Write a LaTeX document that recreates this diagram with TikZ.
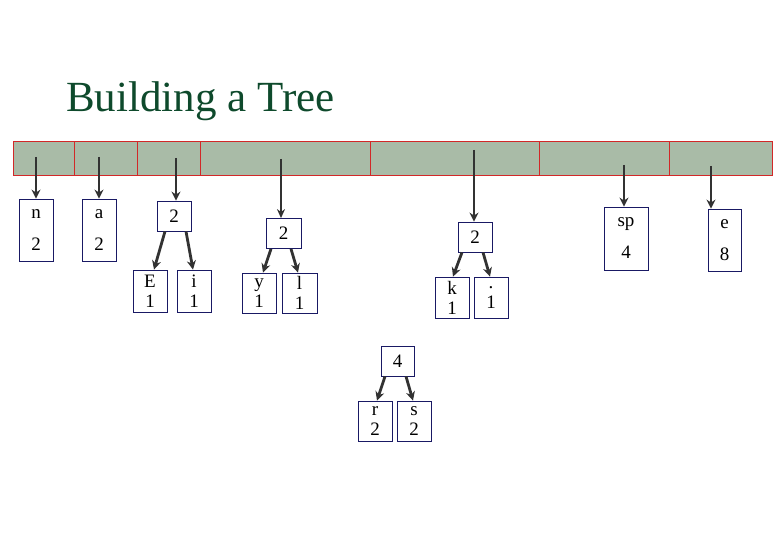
\documentclass[tikz,border=0pt]{standalone}
\usepackage{fontspec}
\setmainfont{Liberation Serif}
\usetikzlibrary{arrows.meta}
\definecolor{titlec}{RGB}{14,74,44}
\definecolor{barfill}{RGB}{169,187,167}
\definecolor{barline}{RGB}{210,40,40}
\definecolor{boxc}{RGB}{25,25,100}
\definecolor{arrc}{RGB}{50,50,50}
\tikzset{
  cell/.style={draw=barline, line width=1.1pt, minimum height=34pt, inner sep=0pt, anchor=north west},
  tbox/.style={draw=boxc, line width=0.8pt, inner sep=0pt, align=center, font=\fontsize{19}{20}\selectfont},
  ptr/.style={draw=arrc, line width=2.8pt, -{Stealth[length=9pt,width=9pt]}},
  thinptr/.style={draw=arrc, line width=1.1pt, -{Stealth[length=9pt,width=8pt]}}
}
\begin{document}
\begin{tikzpicture}[x=1pt,y=-1pt]
\useasboundingbox (0,0) rectangle (780,540);
\node[anchor=base west, inner sep=0pt, text=titlec, font=\fontsize{43}{48}\selectfont] (title) at (66,112) {Building a Tree};
% bar background and cells
\fill[barfill] (13,141) rectangle (772,175);
\node[cell, minimum width=61pt] (c1) at (13,141) {};
\node[cell, minimum width=63pt] (c2) at (74,141) {};
\node[cell, minimum width=63pt] (c3) at (137,141) {};
\node[cell, minimum width=170pt] (c4) at (200,141) {};
\node[cell, minimum width=169pt] (c5) at (370,141) {};
\node[cell, minimum width=130pt] (c6) at (539,141) {};
\node[cell, minimum width=103pt] (c7) at (669,141) {};
% pointer start points
\coordinate (s1) at (36,157);
\coordinate (s2) at (99,157);
\coordinate (s3) at (176,158);
\coordinate (s4) at (281,159);
\coordinate (s5) at (474,150);
\coordinate (s6) at (624,165);
\coordinate (s7) at (711,166);
% boxes
\node[tbox, minimum width=34pt, minimum height=62pt] (n) at (36,230) {n\\[12pt]2};
\node[tbox, minimum width=34pt, minimum height=62pt] (a) at (99,230) {a\\[12pt]2};
\node[tbox, minimum width=34pt, minimum height=30pt] (p1) at (174,216) {2};
\node[tbox, minimum width=34pt, minimum height=42pt] (E) at (150,291) {E\\1};
\node[tbox, minimum width=34pt, minimum height=42pt] (i) at (194,291) {i\\1};
\node[tbox, minimum width=35pt, minimum height=30pt] (p2) at (283.5,233.5) {2};
\node[tbox, minimum width=34pt, minimum height=40pt] (y) at (259,293) {y\\1};
\node[tbox, minimum width=35pt, minimum height=40pt] (l) at (299.5,293) {l\\1};
\node[tbox, minimum width=34pt, minimum height=30pt] (p3) at (475,237) {2};
\node[tbox, minimum width=34pt, minimum height=41pt] (k) at (452,297.5) {k\\1};
\node[tbox, minimum width=34pt, minimum height=41pt] (dot) at (491,297.5) {.\\1};
\node[tbox, minimum width=44pt, minimum height=63pt] (sp) at (626,238.5) {sp\\[12pt]4};
\node[tbox, minimum width=33pt, minimum height=62pt] (e) at (724.5,240) {e\\[12pt]8};
\node[tbox, minimum width=33pt, minimum height=30pt] (p4) at (397.5,361) {4};
\node[tbox, minimum width=34pt, minimum height=40pt] (r) at (375,421) {r\\2};
\node[tbox, minimum width=34pt, minimum height=40pt] (s) at (414,421) {s\\2};
% pointers from table
\draw[ptr] (s1) -- (n.north);
\draw[ptr] (s2) -- (a.north);
\draw[ptr] (s3) -- ([xshift=2pt]p1.north);
\draw[thinptr] (s4) -- ([xshift=-2.5pt]p2.north);
\draw[ptr] (s5) -- ([xshift=-1pt]p3.north);
\draw[ptr] (s6) -- ([xshift=-2pt]sp.north);
\draw[ptr] (s7) -- ([xshift=-13.5pt]e.north);
% tree edges
\draw[ptr] ([xshift=-9pt]p1.south) -- ([xshift=4pt]E.north);
\draw[ptr] ([xshift=12pt]p1.south) -- ([xshift=-1pt]i.north);
\draw[ptr] ([xshift=-12.5pt]p2.south) -- ([xshift=4pt]y.north);
\draw[ptr] ([xshift=7.5pt]p2.south) -- ([xshift=-1.5pt]l.north);
\draw[ptr] ([xshift=-13pt]p3.south) -- ([xshift=1pt]k.north);
\draw[ptr] ([xshift=8pt]p3.south) -- ([xshift=-1pt]dot.north);
\draw[ptr] ([xshift=-12.5pt]p4.south) -- ([xshift=2pt]r.north);
\draw[ptr] ([xshift=8.5pt]p4.south) -- ([xshift=-1pt]s.north);
\end{tikzpicture}
\end{document}
